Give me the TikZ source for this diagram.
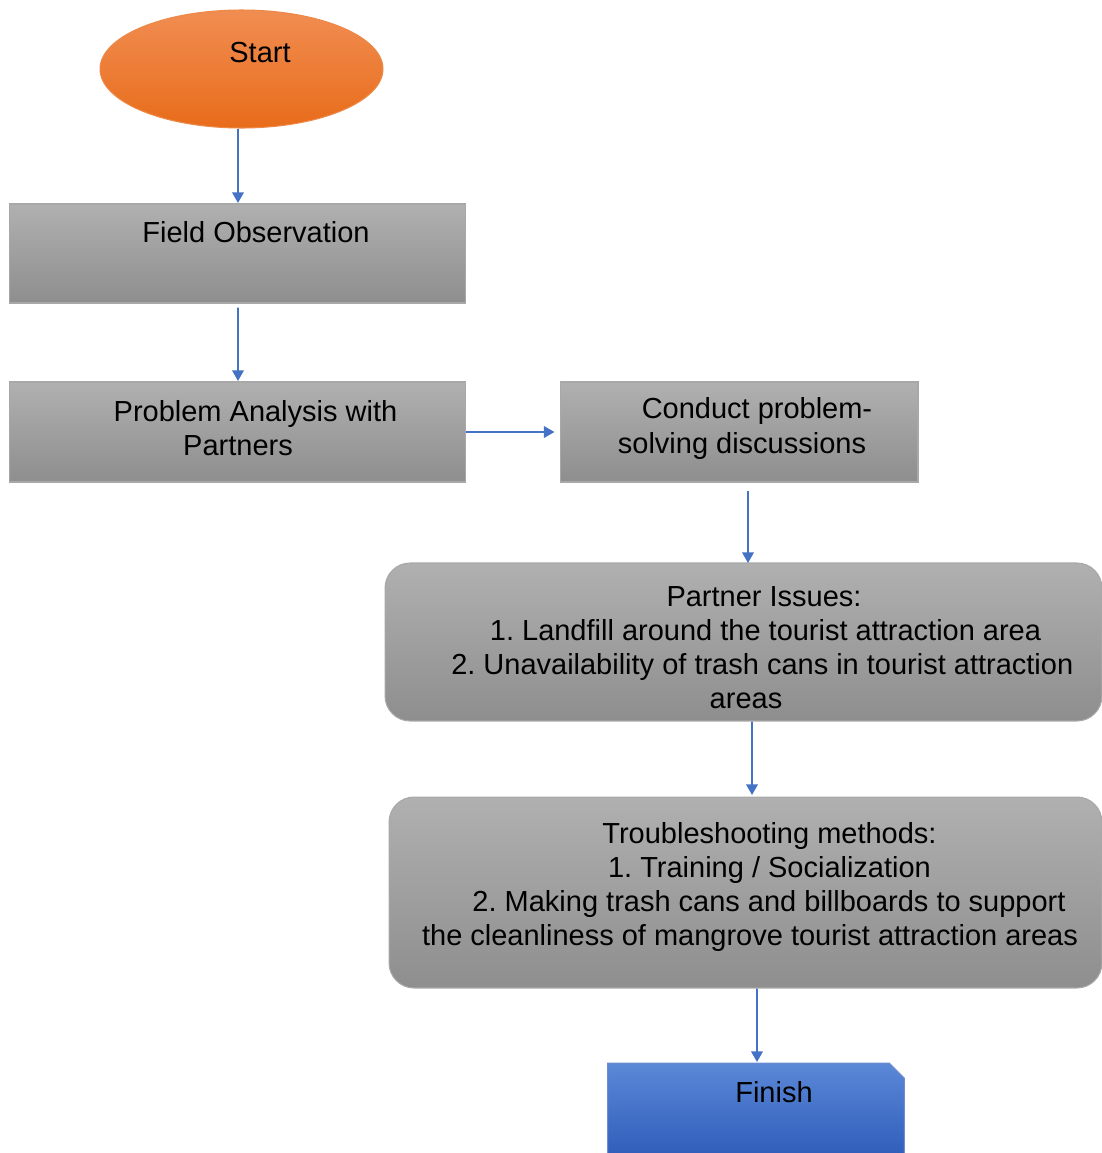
\documentclass[tikz,border=0pt]{standalone}
\usepackage{fontspec}
\setmainfont{Liberation Sans}
\usepackage{tikz}
\usetikzlibrary{arrows.meta,positioning,shapes.geometric}
\frenchspacing

\definecolor{greytop}{HTML}{B0B0B0}
\definecolor{greybot}{HTML}{8E8E8E}
\definecolor{greyline}{HTML}{A8A8A8}
\definecolor{orangetop}{HTML}{F18D52}
\definecolor{orangebot}{HTML}{E86C1A}
\definecolor{bluetop}{HTML}{5B88D7}
\definecolor{bluebot}{HTML}{2E5CB9}
\definecolor{linkblue}{HTML}{4472C4}

\begin{document}
\begin{tikzpicture}[
    x=0.02cm, y=-0.02cm,
    font=\fontsize{16.5}{19.4}\selectfont,
    greybox/.style={draw=greyline, line width=0.6pt, top color=greytop,
      bottom color=greybot, align=center, inner sep=0pt},
    softbox/.style={greybox, rounded corners=0.5cm},
    startnode/.style={ellipse, draw=orangebot!80, line width=0.6pt,
      top color=orangetop, bottom color=orangebot, inner sep=0pt},
    finishfill/.style={draw=bluebot!70, line width=0.6pt, top color=bluetop,
      bottom color=bluebot},
    arrow/.style={draw=linkblue, line width=1.1pt,
      -{Triangle[width=6.5pt,length=6pt]}}
  ]
    \useasboundingbox (0,0) rectangle (1102,1153);

    \node[startnode, minimum width=5.66cm, minimum height=2.36cm] (start) at (241.5,69) {};
    \node (starttext) at (260,53) {Start};

    \node[greybox, minimum width=9.14cm, minimum height=1.98cm] (field) at (237.5,253.5) {};
    \node (fieldtext) at (256,232) {Field Observation};

    \node[greybox, minimum width=9.14cm, minimum height=2.0cm] (analysis) at (237.5,432) {};
    \node[align=center] (analysistext) at (238,428.5)
      {\hspace*{0.7cm}Problem Analysis with\\ Partners};
    \node[greybox, minimum width=7.16cm, minimum height=2.0cm] (conduct) at (739,432) {};
    \node[align=center] (conducttext) at (742,428.5)
      {\hspace*{0.6cm}Conduct problem-\\ solving discussions};

    \node[softbox, minimum width=14.34cm, minimum height=3.16cm] (issues) at (743.5,642) {};
    \node[align=center] (issuestext) at (746,648)
      {\hspace*{0.72cm}Partner Issues:\\ \hspace*{0.78cm}1. Landfill around the tourist attraction area\\
       \hspace*{0.65cm}2. Unavailability of trash cans in tourist attraction\\ areas};

    \node[softbox, minimum width=14.26cm, minimum height=3.82cm] (methods) at (745.5,892.5) {};
    \node[align=center] (methodstext) at (750,887)
      {\hspace*{0.78cm}Troubleshooting methods:\\ \hspace*{0.78cm}1. Training / Socialization\\
       \hspace*{0.76cm}2. Making trash cans and billboards to support\\
       the cleanliness of mangrove tourist attraction areas};

    \node[minimum width=5.92cm, minimum height=1.9cm, inner sep=0pt] (finish) at (756,1111) {};
    \fill[finishfill] (finish.south west) |- ([xshift=-0.3cm]finish.north east)
      -- ([yshift=-0.3cm]finish.north east) |- cycle;
    \node (finishtext) at (774,1092) {Finish};

    \draw[arrow] (start.south -| 238,0) -- (238,203);
    \draw[arrow] ([yshift=-0.08cm]field.south) ++(0.5,0) -- (238,381);
    \draw[arrow] (analysis.east) -- ([xshift=-0.1cm]conduct.west);
    \draw[arrow] ([yshift=-0.16cm]conduct.south) ++(9,0) -- (748,563);
    \draw[arrow] (issues.south) ++(8.5,0) -- (752,795);
    \draw[arrow] (methods.south) ++(11.5,0) -- (757,1062);
  \end{tikzpicture}
\end{document}
